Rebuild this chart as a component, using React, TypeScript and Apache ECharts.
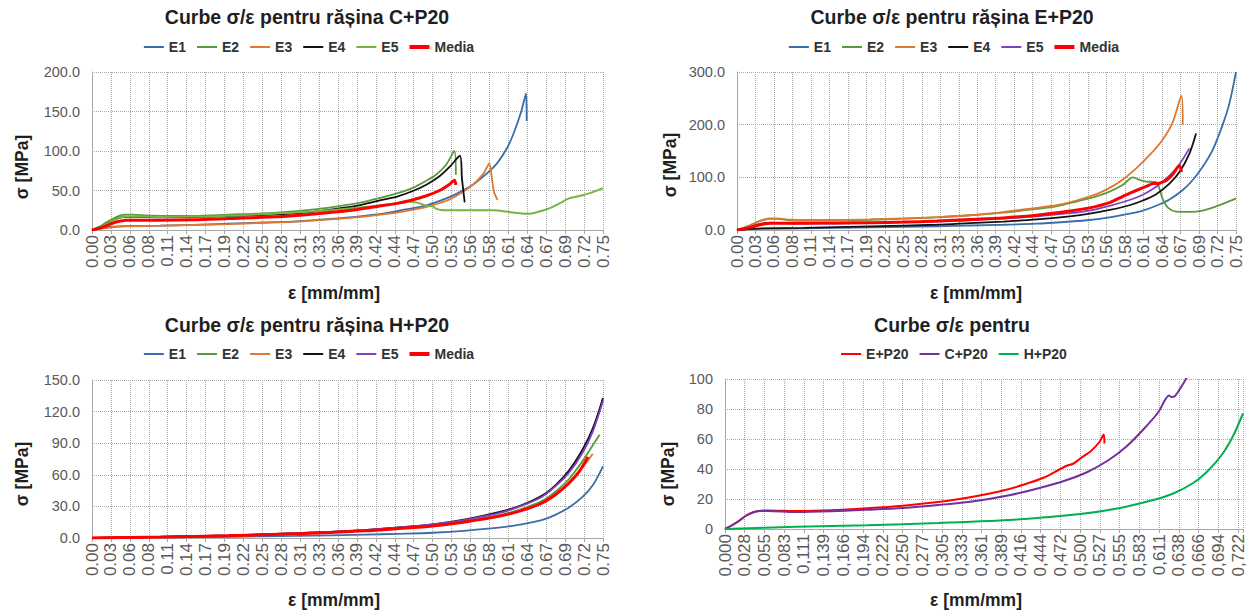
import React, { useEffect, useRef } from 'react';
import * as echarts from 'echarts';

type Pt = [number, number];

const FONT = '"Liberation Sans", Arial, sans-serif';

// ---------- Panel 1: C+P20 ----------
const C_E1: Pt[] = [[0,0],[0.01,1.5],[0.02,3],[0.03,4.2],[0.05,5],[0.1,5.5],[0.15,6.5],[0.2,8],[0.25,9.5],[0.3,11],[0.35,14],[0.4,18],[0.43,21],[0.46,26],[0.49,31],[0.52,40],[0.54,48],[0.56,58],[0.58,72],[0.595,85],[0.61,105],[0.62,125],[0.63,150],[0.637,173],[0.638,138]];
const C_E2: Pt[] = [[0,0],[0.01,4],[0.02,9],[0.03,14],[0.04,18],[0.05,19.5],[0.06,19.5],[0.08,18.5],[0.1,18],[0.15,18],[0.2,19.5],[0.25,21],[0.3,24],[0.33,26.5],[0.36,30],[0.39,34],[0.42,40],[0.45,47],[0.47,53],[0.49,62],[0.505,70],[0.52,83],[0.532,100],[0.534,70]];
const C_E3: Pt[] = [[0,0],[0.01,1.5],[0.02,2.5],[0.03,3.5],[0.05,4.5],[0.1,5.5],[0.15,6.5],[0.2,7.5],[0.25,9],[0.3,10.5],[0.35,13.5],[0.4,17],[0.43,20],[0.46,24],[0.49,29],[0.52,37],[0.54,46],[0.56,58],[0.575,72],[0.583,84],[0.587,65],[0.59,48],[0.595,38]];
const C_E4: Pt[] = [[0,0],[0.01,3],[0.02,7],[0.03,12],[0.04,15.5],[0.05,16.5],[0.07,16.5],[0.1,16],[0.15,16.5],[0.2,17.5],[0.25,19],[0.3,21],[0.33,23.5],[0.36,27],[0.39,31],[0.42,37],[0.45,43],[0.47,49],[0.49,57],[0.51,68],[0.525,80],[0.54,94],[0.543,65],[0.547,35]];
const C_E5: Pt[] = [[0,0],[0.01,3],[0.02,7],[0.03,12],[0.04,15.5],[0.05,17],[0.07,17],[0.1,16.5],[0.15,17],[0.2,18],[0.25,20],[0.3,22],[0.35,25],[0.4,29],[0.44,33],[0.465,36],[0.48,34],[0.49,31],[0.5,30],[0.505,27],[0.515,25],[0.55,25],[0.59,25],[0.61,23],[0.625,21.5],[0.64,20.5],[0.655,23],[0.67,27],[0.685,33],[0.7,40],[0.72,44],[0.735,48],[0.75,53]];
const C_MEDIA: Pt[] = [[0,0],[0.01,2],[0.02,5],[0.03,8.5],[0.04,11],[0.05,12.5],[0.07,12.5],[0.1,12.5],[0.15,13],[0.2,14.5],[0.25,16],[0.3,18.5],[0.33,20.5],[0.36,23],[0.39,26],[0.42,30],[0.45,34],[0.47,38],[0.49,43],[0.51,50],[0.525,58],[0.532,63],[0.534,57]];

// ---------- Panel 2: E+P20 ----------
const E_E1: Pt[] = [[0,0],[0.02,1.5],[0.04,2.5],[0.1,3],[0.2,5],[0.3,7],[0.35,8.5],[0.4,10],[0.45,12],[0.5,16],[0.53,19],[0.56,24],[0.59,31],[0.61,37],[0.63,46],[0.65,58],[0.67,76],[0.685,95],[0.7,120],[0.715,152],[0.73,200],[0.74,240],[0.75,300]];
const E_E2: Pt[] = [[0,0],[0.01,4],[0.02,9],[0.03,15],[0.04,19],[0.05,21],[0.06,21],[0.08,18.5],[0.1,18],[0.15,18.5],[0.2,19.5],[0.25,21.5],[0.3,24],[0.35,28],[0.4,33],[0.45,40],[0.48,45],[0.51,54],[0.54,64],[0.56,73],[0.58,86],[0.595,100],[0.605,95],[0.615,92],[0.63,91],[0.635,78],[0.64,58],[0.648,42],[0.66,35],[0.68,34.5],[0.7,37],[0.72,45],[0.735,52],[0.75,60]];
const E_E3: Pt[] = [[0,0],[0.01,4],[0.02,9],[0.03,15],[0.04,19.5],[0.05,22],[0.06,22],[0.08,19.5],[0.1,19],[0.15,19],[0.2,20],[0.25,22],[0.3,24.5],[0.35,28],[0.4,34],[0.45,42],[0.48,47],[0.51,56],[0.54,68],[0.56,80],[0.58,96],[0.6,117],[0.62,142],[0.64,172],[0.655,205],[0.668,255],[0.67,200]];
const E_E4: Pt[] = [[0,0],[0.02,2],[0.04,3],[0.1,4],[0.2,7],[0.3,10],[0.35,13],[0.4,16],[0.45,20],[0.5,26],[0.53,31],[0.56,38],[0.59,47],[0.61,56],[0.63,68],[0.65,88],[0.665,110],[0.68,145],[0.69,183]];
const E_E5: Pt[] = [[0,0],[0.01,3],[0.02,6],[0.03,10],[0.04,13],[0.05,14],[0.07,13],[0.1,12],[0.2,13],[0.3,16],[0.35,18.5],[0.4,22],[0.45,26],[0.5,32],[0.53,37],[0.56,46],[0.59,57],[0.61,67],[0.63,82],[0.65,103],[0.665,125],[0.68,155]];
const E_MEDIA: Pt[] = [[0,0],[0.01,2],[0.02,5],[0.03,8.5],[0.04,11.5],[0.05,13],[0.07,13],[0.1,13],[0.15,13.5],[0.2,14],[0.25,15],[0.3,17],[0.35,20],[0.4,23],[0.45,28],[0.5,36],[0.53,42],[0.56,52],[0.58,64],[0.6,75],[0.615,83],[0.625,88],[0.635,89],[0.645,94],[0.655,106],[0.665,122],[0.668,110]];

// ---------- Panel 3: H+P20 ----------
const H_E1: Pt[] = [[0,0],[0.1,0.5],[0.2,1.2],[0.3,2],[0.4,3.2],[0.45,4],[0.5,5],[0.55,7],[0.6,10],[0.63,13],[0.66,17],[0.68,22],[0.7,29],[0.72,39],[0.735,50],[0.75,68]];
const H_E2: Pt[] = [[0,0],[0.1,1],[0.2,2.3],[0.3,4.2],[0.4,7],[0.45,9.5],[0.5,12],[0.55,16.5],[0.6,22],[0.63,27.5],[0.66,35],[0.68,44],[0.7,56],[0.72,73],[0.735,88],[0.745,98]];
const H_E3: Pt[] = [[0,0],[0.1,0.9],[0.2,2.2],[0.3,4],[0.4,7],[0.45,9],[0.5,11.5],[0.55,16],[0.6,21],[0.63,26.5],[0.66,33.5],[0.68,42],[0.7,53],[0.72,67],[0.735,80]];
const H_E4: Pt[] = [[0,0],[0.1,1],[0.2,2.5],[0.3,4.5],[0.4,7.5],[0.45,10],[0.5,13],[0.55,18],[0.6,25],[0.63,31],[0.66,40],[0.68,50],[0.7,64],[0.72,84],[0.735,104],[0.75,133]];
const H_E5: Pt[] = [[0,0],[0.1,1],[0.2,2.5],[0.3,4.5],[0.4,7.5],[0.45,10],[0.5,13],[0.55,17.5],[0.6,24],[0.63,30.5],[0.66,39],[0.68,49],[0.7,62],[0.72,81],[0.735,101],[0.75,130]];
const H_MEDIA: Pt[] = [[0,0],[0.1,0.9],[0.2,2.2],[0.3,4],[0.4,6.8],[0.45,9],[0.5,11.5],[0.55,15.5],[0.6,21],[0.63,26],[0.66,33],[0.68,41],[0.7,52],[0.715,63],[0.728,77]];

// ---------- Panel 4: comparison ----------
const CMP_E: Pt[] = [[0,0],[0.01,2.5],[0.02,5.5],[0.03,9],[0.04,11.2],[0.05,12.2],[0.06,12.3],[0.1,12],[0.15,12.5],[0.2,13.8],[0.25,15.5],[0.3,18],[0.33,20],[0.36,22.5],[0.39,25.5],[0.42,29.5],[0.45,34.5],[0.47,39.5],[0.48,42],[0.49,43.5],[0.5,47],[0.515,52],[0.527,58],[0.533,63],[0.534,57]];
const CMP_C: Pt[] = [[0,0],[0.01,2.5],[0.02,5.5],[0.03,9],[0.04,11.2],[0.05,12],[0.06,12],[0.1,11.3],[0.15,11.8],[0.2,12.8],[0.25,14],[0.3,16],[0.35,18.5],[0.4,22.5],[0.44,27],[0.48,32.5],[0.51,38],[0.54,46],[0.565,55],[0.59,67],[0.61,78],[0.625,89],[0.628,88],[0.633,88.5],[0.645,97],[0.652,103]];
const CMP_H: Pt[] = [[0,0],[0.1,1.5],[0.2,2.5],[0.3,4],[0.4,6],[0.45,7.8],[0.5,10],[0.55,13.5],[0.6,19],[0.63,23.5],[0.66,31],[0.68,39],[0.7,50],[0.715,62],[0.729,77]];

const CMP_TICKS = ['0,000','0,028','0,055','0,083','0,111','0,139','0,166','0,194','0,222','0,250','0,277','0,305','0,333','0,361','0,389','0,416','0,444','0,472','0,500','0,527','0,555','0,583','0,611','0,638','0,666','0,694','0,722'];

const BLUE = '#3A6DAA';
const GREEN = '#5A9A3C';
const ORANGE = '#E0782F';
const BLACK = '#111111';
const LIGHTGREEN = '#74B444';
const PURPLE = '#8040C0';
const RED = '#FF0000';

interface SeriesDef { name: string; data: Pt[]; color: string; width: number; }
interface PanelCfg {
  title: string;
  titleX: number; titleY: number;
  legendTop: number;
  grid: { left: number; top: number; width: number; height: number };
  xMax: number; xStep: number; xLabel: (v: number) => string;
  yMax: number; yStep: number; yLabel: (v: number) => string;
  yNameX: number; yNameY: number;
  xNameX: number; xNameY: number;
  series: SeriesDef[];
}

function buildOption(p: PanelCfg) {
  return {
    animation: false,
    textStyle: { fontFamily: FONT },
    legend: {
      left: 'center', top: p.legendTop, padding: 0,
      itemWidth: 20, itemHeight: 14, itemGap: 11,
      textStyle: { fontSize: 14, fontWeight: 'bold', color: '#333333', fontFamily: FONT },
      data: p.series.map(s => ({
        name: s.name,
        icon: s.width >= 2.5 ? 'path://M0,0H20V4H0Z' : 'path://M0,0H20V2H0Z',
      })),
    },
    grid: { ...p.grid, containLabel: false },
    xAxis: {
      type: 'value', min: 0, max: p.xMax, interval: p.xStep,
      axisLine: { show: true, lineStyle: { color: '#A6A6A6', width: 1 } },
      axisTick: { show: true, length: 4, lineStyle: { color: '#A6A6A6' } },
      splitLine: { show: true, lineStyle: { color: '#A8A8A8', type: 'dotted', width: 1 } },
      axisLabel: { rotate: 90, margin: 5, fontSize: 17, color: '#595959', fontFamily: FONT, formatter: p.xLabel, showMaxLabel: true, showMinLabel: true },
    },
    yAxis: {
      type: 'value', min: 0, max: p.yMax, interval: p.yStep,
      axisLine: { show: true, lineStyle: { color: '#A6A6A6', width: 1 } },
      axisTick: { show: false },
      splitLine: { show: true, lineStyle: { color: '#A8A8A8', type: 'dotted', width: 1 } },
      axisLabel: { margin: 12, fontSize: 14.5, color: '#595959', fontFamily: FONT, formatter: p.yLabel },
    },
    graphic: [
      { type: 'text', x: p.titleX, y: p.titleY, style: { text: p.title, font: `bold 19.5px ${FONT}`, fill: '#1F1F1F', textAlign: 'center', textVerticalAlign: 'middle' } },
      { type: 'text', x: p.yNameX, y: p.yNameY, rotation: Math.PI / 2, style: { text: 'σ [MPa]', font: `bold 17.5px ${FONT}`, fill: '#1F1F1F', textAlign: 'center', textVerticalAlign: 'middle' } },
      { type: 'text', x: p.xNameX, y: p.xNameY, style: { text: 'ε [mm/mm]', font: `bold 17.5px ${FONT}`, fill: '#1F1F1F', textAlign: 'center', textVerticalAlign: 'middle' } },
    ],
    series: p.series.map(s => ({
      name: s.name, type: 'line', data: s.data, symbol: 'none', showSymbol: false,
      smooth: 0.3, clip: true,
      lineStyle: { color: s.color, width: s.width }, itemStyle: { color: s.color },
    })),
  };
}

const STEP27 = 0.75 / 27;
const fmt2 = (v: number) => v.toFixed(2);
const fmt1 = (v: number) => v.toFixed(1);
const CMP_STEP = 0.722 / 26;
const cmpFmt = (v: number) => {
  const i = Math.round(v / CMP_STEP);
  if (Math.abs(v - i * CMP_STEP) > CMP_STEP * 0.05 || i >= CMP_TICKS.length) return '';
  return CMP_TICKS[i];
};

const P1: PanelCfg = {
  title: 'Curbe σ/ε pentru rășina C+P20', titleX: 307, titleY: 17, legendTop: 40,
  grid: { left: 92, top: 72, width: 511, height: 158 },
  xMax: 0.75, xStep: STEP27, xLabel: fmt2, yMax: 200, yStep: 50, yLabel: fmt1,
  yNameX: 22, yNameY: 167, xNameX: 334, xNameY: 293,
  series: [
    { name: 'E1', data: C_E1, color: BLUE, width: 1.8 },
    { name: 'E2', data: C_E2, color: GREEN, width: 1.8 },
    { name: 'E3', data: C_E3, color: ORANGE, width: 1.8 },
    { name: 'E4', data: C_E4, color: BLACK, width: 1.8 },
    { name: 'E5', data: C_E5, color: LIGHTGREEN, width: 2 },
    { name: 'Media', data: C_MEDIA, color: RED, width: 3 },
  ],
};

const P2: PanelCfg = {
  title: 'Curbe σ/ε pentru rășina E+P20', titleX: 302, titleY: 17, legendTop: 40,
  grid: { left: 87, top: 72, width: 499, height: 158 },
  xMax: 0.75, xStep: STEP27, xLabel: fmt2, yMax: 300, yStep: 100, yLabel: fmt1,
  yNameX: 20, yNameY: 165, xNameX: 326, xNameY: 293,
  series: [
    { name: 'E1', data: E_E1, color: BLUE, width: 1.8 },
    { name: 'E2', data: E_E2, color: GREEN, width: 1.8 },
    { name: 'E3', data: E_E3, color: ORANGE, width: 1.8 },
    { name: 'E4', data: E_E4, color: BLACK, width: 1.8 },
    { name: 'E5', data: E_E5, color: PURPLE, width: 1.8 },
    { name: 'Media', data: E_MEDIA, color: RED, width: 3 },
  ],
};

const P3: PanelCfg = {
  title: 'Curbe σ/ε pentru rășina H+P20', titleX: 307, titleY: 20, legendTop: 42,
  grid: { left: 92, top: 75, width: 511, height: 158 },
  xMax: 0.75, xStep: STEP27, xLabel: fmt2, yMax: 150, yStep: 30, yLabel: fmt1,
  yNameX: 22, yNameY: 169, xNameX: 334, xNameY: 295,
  series: [
    { name: 'E1', data: H_E1, color: BLUE, width: 1.8 },
    { name: 'E2', data: H_E2, color: GREEN, width: 1.8 },
    { name: 'E3', data: H_E3, color: ORANGE, width: 1.8 },
    { name: 'E4', data: H_E4, color: BLACK, width: 1.8 },
    { name: 'E5', data: H_E5, color: PURPLE, width: 1.8 },
    { name: 'Media', data: H_MEDIA, color: RED, width: 3 },
  ],
};

const P4: PanelCfg = {
  title: 'Curbe σ/ε pentru', titleX: 302, titleY: 20, legendTop: 42,
  grid: { left: 75, top: 74, width: 518, height: 150 },
  xMax: 0.729, xStep: CMP_STEP, xLabel: cmpFmt, yMax: 100, yStep: 20, yLabel: (v: number) => String(v),
  yNameX: 18, yNameY: 169, xNameX: 326, xNameY: 295,
  series: [
    { name: 'E+P20', data: CMP_E, color: RED, width: 2 },
    { name: 'C+P20', data: CMP_C, color: '#7030A0', width: 2 },
    { name: 'H+P20', data: CMP_H, color: '#00B050', width: 2 },
  ],
};

function Panel({ cfg, left, top, width, height }: { cfg: PanelCfg; left: number; top: number; width: number; height: number }) {
  const ref = useRef<HTMLDivElement>(null);
  useEffect(() => {
    if (!ref.current) return;
    const chart = echarts.init(ref.current, undefined, { renderer: 'svg' });
    chart.setOption(buildOption(cfg) as any);
    return () => chart.dispose();
  }, [cfg]);
  return <div ref={ref} style={{ position: 'absolute', left, top, width, height }} />;
}

export default function App() {
  return (
    <div style={{ position: 'fixed', left: 0, top: 0, width: 1247, height: 611, background: '#ffffff', overflow: 'hidden' }}>
      <Panel cfg={P1} left={0} top={0} width={618} height={305} />
      <Panel cfg={P2} left={650} top={0} width={608} height={305} />
      <Panel cfg={P3} left={0} top={305} width={618} height={306} />
      <Panel cfg={P4} left={650} top={305} width={608} height={306} />
    </div>
  );
}
